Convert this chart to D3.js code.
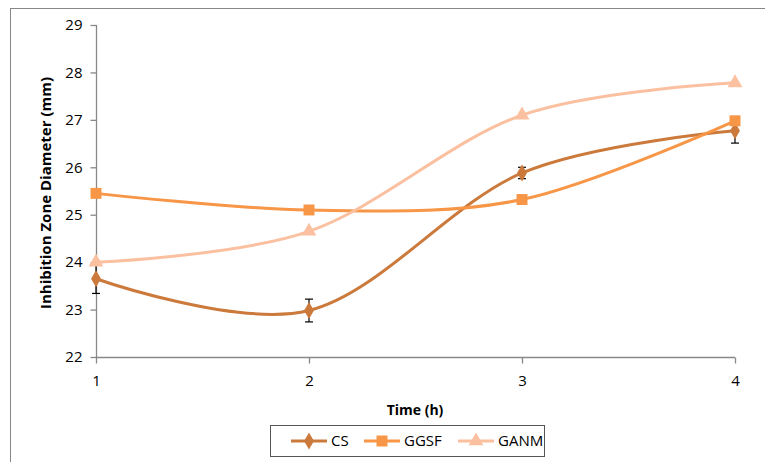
<!DOCTYPE html>
<html>
<head>
<meta charset="utf-8">
<script src="https://cdn.jsdelivr.net/npm/d3@7"></script>
<style>
  body { margin: 0; background: #fff; }
  svg { font-family: "Open Sans", "Liberation Sans", sans-serif; }
</style>
</head>
<body>
<svg width="765" height="462"></svg>
<script>
const times = [1, 2, 3, 4];
const csValues = [23.65, 22.98, 25.88, 26.77];
const csErrors = [0.31, 0.24, 0.12, 0.26];
const ggsfValues = [25.45, 25.1, 25.32, 26.98];
const ganmValues = [24.0, 24.65, 27.1, 27.78];
const yTicks = [22, 23, 24, 25, 26, 27, 28, 29];

const series = [
    {name: "CS", values: csValues, errors: csErrors, color: "#CB7A3C", symbol: d3.symbolDiamond, size: 85},
    {name: "GGSF", values: ggsfValues, color: "#F79646", symbol: d3.symbolSquare, size: 120},
    {name: "GANM", values: ganmValues, color: "#FAC0A0", symbol: d3.symbolTriangle, size: 95}
];

const svg = d3.select("svg");

// outer chart border
svg.append("rect")
    .attr("x", 10.5).attr("y", 8.5)
    .attr("width", 770).attr("height", 470)
    .attr("fill", "none")
    .attr("stroke", "#878787");

const x = d3.scaleLinear().domain([1, 4]).range([96, 735]);
const y = d3.scaleLinear().domain([22, 29]).range([357, 25]);

const axisColor = "#888";

const yAxis = svg.append("g")
    .attr("transform", "translate(96.5,0)")
    .call(d3.axisLeft(y).tickValues(yTicks).tickFormat(d3.format("d")).tickSize(6).tickPadding(8));
const xAxis = svg.append("g")
    .attr("transform", "translate(0,357.5)")
    .call(d3.axisBottom(x).tickValues(times).tickFormat(d3.format("d")).tickSize(6).tickPadding(12));

[xAxis, yAxis].forEach(g => {
    g.select(".domain").attr("stroke", axisColor).attr("stroke-width", 1.3);
    g.selectAll(".tick line").attr("stroke", axisColor).attr("stroke-width", 1.3);
    g.selectAll(".tick text")
        .attr("fill", "#000")
        .style("font-size", "15px")
        .style("font-family", "'Open Sans', sans-serif");
});
yAxis.select(".domain").attr("d", "M0,357V25");
xAxis.select(".domain").attr("d", "M96,0H735");

svg.append("text")
    .attr("transform", "translate(51,193) rotate(-90)")
    .attr("text-anchor", "middle")
    .style("font-size", "15px")
    .style("font-weight", "bold")
    .text("Inhibition Zone Diameter (mm)");

svg.append("text")
    .attr("x", 415).attr("y", 415)
    .attr("text-anchor", "middle")
    .style("font-size", "14px")
    .style("font-weight", "bold")
    .text("Time (h)");

const line = d3.line()
    .x((d, i) => x(times[i]))
    .y(d => y(d))
    .curve(d3.curveCatmullRom.alpha(0));

// lines
series.forEach(s => {
    svg.append("path")
        .attr("d", line(s.values))
        .attr("fill", "none")
        .attr("stroke", s.color)
        .attr("stroke-width", 3);
});

// error bars (CS)
const cs = series[0];
const eb = svg.append("g").attr("stroke", "#000").attr("stroke-width", 1.2);
cs.values.forEach((v, i) => {
    const cx = x(times[i]);
    eb.append("line").attr("x1", cx).attr("x2", cx).attr("y1", y(v - cs.errors[i])).attr("y2", y(v + cs.errors[i]));
    [v - cs.errors[i], v + cs.errors[i]].forEach(e => {
        eb.append("line").attr("x1", cx - 4).attr("x2", cx + 4).attr("y1", y(e)).attr("y2", y(e));
    });
});

// markers
series.forEach(s => {
    svg.append("g").selectAll("path")
        .data(s.values)
        .join("path")
        .attr("transform", (d, i) => `translate(${x(times[i])},${y(d)})`)
        .attr("d", d3.symbol().type(s.symbol).size(s.size))
        .attr("fill", s.color);
});

// legend
const legend = svg.append("g");
legend.append("rect")
    .attr("x", 270.5).attr("y", 425.5)
    .attr("width", 274).attr("height", 31)
    .attr("fill", "none")
    .attr("stroke", "#555")
    .attr("stroke-width", 1);

const legendX = [291, 364, 458];
series.forEach((s, i) => {
    const g = legend.append("g").attr("transform", `translate(${legendX[i]},441)`);
    g.append("line").attr("x1", 0).attr("x2", 36).attr("stroke", s.color).attr("stroke-width", 3);
    g.append("path").attr("transform", "translate(18,0)")
        .attr("d", d3.symbol().type(s.symbol).size(s.size))
        .attr("fill", s.color);
    g.append("text")
        .attr("x", 40).attr("y", 5)
        .style("font-size", "15px")
        .text(s.name);
});
</script>
</body>
</html>
